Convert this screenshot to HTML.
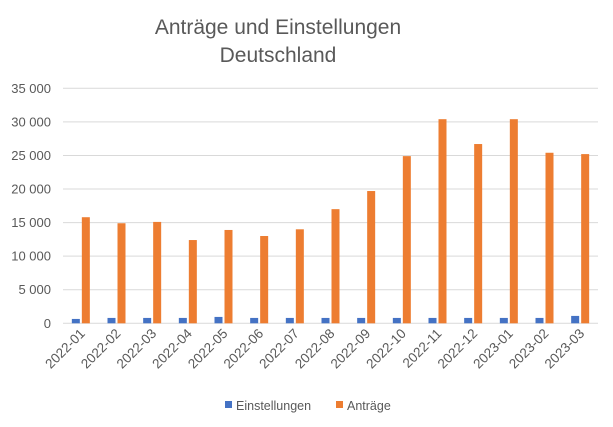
<!DOCTYPE html>
<html><head><meta charset="utf-8"><style>
body{margin:0;background:#fff;}
svg{display:block;font-family:"Liberation Sans",Arial,sans-serif;}
</style></head><body>
<svg id="chart" width="613" height="427" viewBox="0 0 613 427">
<rect width="613" height="427" fill="#fff"/>
<text x="278" y="34" text-anchor="middle" font-size="21" fill="#595959">Anträge und Einstellungen</text>
<text x="278" y="62" text-anchor="middle" font-size="21" fill="#595959">Deutschland</text>
<g id="grid"></g><g id="bars"></g><g id="xlabels"></g>
<g>
<rect x="225" y="401" width="7" height="7" fill="#4472C4"/>
<text x="236" y="410" font-size="12.5" fill="#595959">Einstellungen</text>
<rect x="336" y="401" width="7" height="7" fill="#ED7D31"/>
<text x="347" y="410" font-size="12.5" fill="#595959">Anträge</text>
</g>
</svg>
<script>
const categories=["2022-01","2022-02","2022-03","2022-04","2022-05","2022-06","2022-07","2022-08","2022-09","2022-10","2022-11","2022-12","2023-01","2023-02","2023-03"];
const einstellungen=[650,800,800,800,950,800,800,800,800,800,800,800,800,800,1100];
const antraege=[15800,14900,15100,12400,13900,13000,14000,17000,19700,24900,30400,26700,30400,25400,25200];
const yTicks=[0,5000,10000,15000,20000,25000,30000,35000];
const yTickLabels=["0","5 000","10 000","15 000","20 000","25 000","30 000","35 000"];
const NS="http://www.w3.org/2000/svg";
const x0=63,x1=598,y0=323.3,y1=88.3,ymax=35000;
const band=(x1-x0)/categories.length;
const y=v=>y0-(v/ymax)*(y0-y1);
const xc=i=>x0+band*(i+0.5);
const grid=document.getElementById('grid'),bars=document.getElementById('bars'),xl=document.getElementById('xlabels');
yTicks.forEach((t,i)=>{
 const l=document.createElementNS(NS,'line');
 
 
 l.setAttribute('x1',x0);l.setAttribute('x2',x1);l.setAttribute('y1',y(t));l.setAttribute('y2',y(t));
 l.setAttribute('stroke','#d9d9d9');l.setAttribute('stroke-width','1');
 grid.appendChild(l);
 const tx=document.createElementNS(NS,'text');
 
 
 tx.setAttribute('x',51);tx.setAttribute('y',y(t)+4.5);tx.setAttribute('text-anchor','end');
 tx.setAttribute('font-size','13');tx.setAttribute('fill','#595959');tx.textContent=yTickLabels[i];
 grid.appendChild(tx);
});
const bw=8;
categories.forEach((c,i)=>{
 const b=document.createElementNS(NS,'rect');
 
 
 b.setAttribute('x',xc(i)-bw-1);b.setAttribute('width',bw);b.setAttribute('y',y(einstellungen[i]));b.setAttribute('height',y0-y(einstellungen[i]));b.setAttribute('fill','#4472C4');
 bars.appendChild(b);
 const o=document.createElementNS(NS,'rect');
 
 
 o.setAttribute('x',xc(i)+1);o.setAttribute('width',bw);o.setAttribute('y',y(antraege[i]));o.setAttribute('height',y0-y(antraege[i]));o.setAttribute('fill','#ED7D31');
 bars.appendChild(o);
 const t=document.createElementNS(NS,'text');
 
 
 const tx=xc(i)+5,ty=y0+11;
 t.setAttribute('x',tx);t.setAttribute('y',ty);t.setAttribute('text-anchor','end');
 t.setAttribute('font-size','13.5');t.setAttribute('fill','#595959');
 t.setAttribute('transform','rotate(-45 '+tx+' '+ty+')');t.textContent=c;
 xl.appendChild(t);
});
</script>
</body></html>
